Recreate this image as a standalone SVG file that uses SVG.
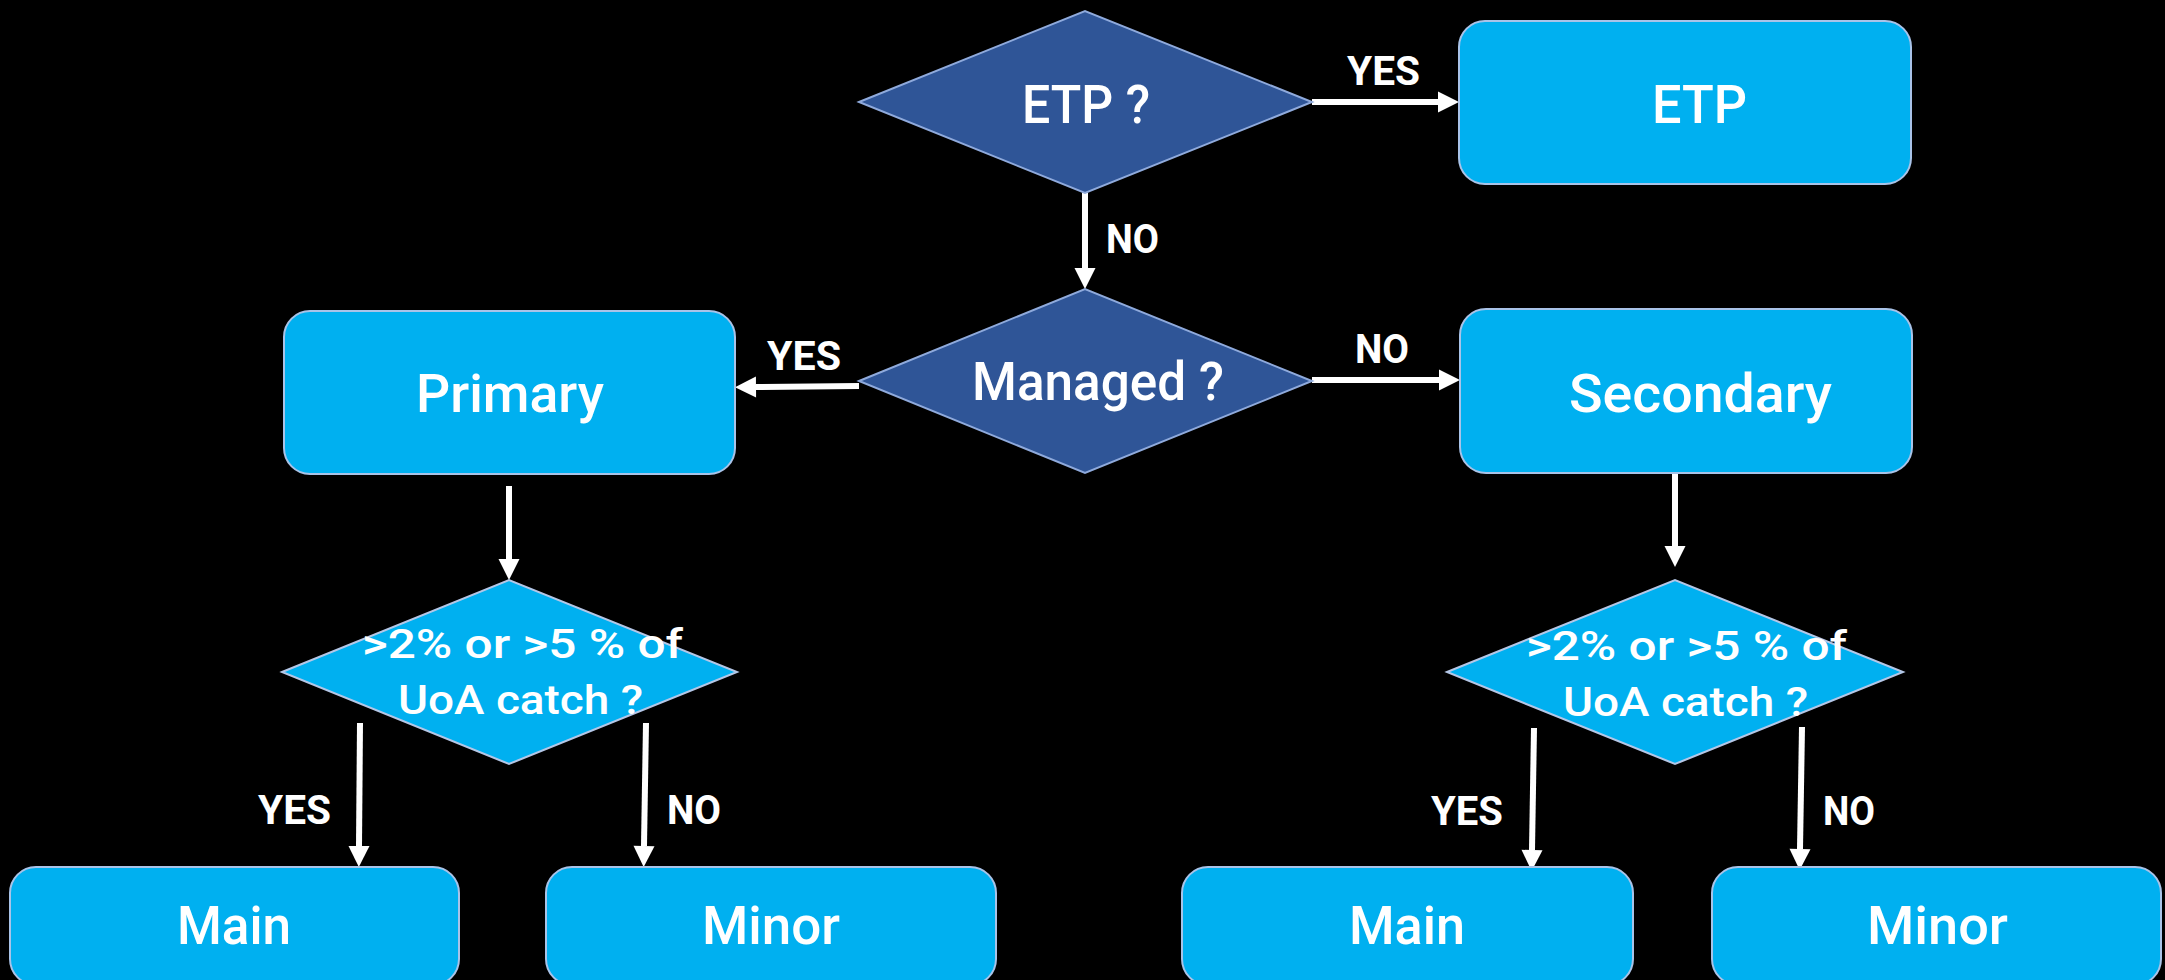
<svg xmlns="http://www.w3.org/2000/svg" width="2165" height="980" viewBox="0 0 2165 980">
  <defs>
    <marker id="head" markerUnits="userSpaceOnUse" markerWidth="20" markerHeight="21" refX="0" refY="10.5" orient="auto" overflow="visible">
      <path d="M0,0 L21,10.5 L0,21 z" fill="#ffffff"/>
    </marker>
    <style>
      .bg { fill: #000000; }
      .box { fill: #00B0F0; stroke: #A9C3E8; stroke-width: 2; }
      .dq { fill: #2F5597; stroke: #8FAADC; stroke-width: 2; }
      .dl { fill: #00B0F0; stroke: #B4C7E7; stroke-width: 2; }
      .t { font-family: Roboto, "Liberation Sans", sans-serif; font-weight: 500; fill: #ffffff; text-anchor: start; }
      .big { font-size: 54px; }
      .mid { font-size: 40px; }
      .lab { font-size: 41px; font-weight: 700; }
      .edge { fill: none; stroke: #ffffff; stroke-width: 6; marker-end: url(#head); }
    </style>
  </defs>

  <rect class="bg" x="0" y="0" width="2165" height="980"/>

  <!-- connectors -->
  <g id="connectors">
    <path class="edge" d="M1312,102 L1438,102"/>
    <path class="edge" d="M1085,193 L1085,268"/>
    <path class="edge" d="M859,386 L756,387"/>
    <path class="edge" d="M1312,380 L1439,380"/>
    <path class="edge" d="M509,486 L509,559"/>
    <path class="edge" d="M1675,472 L1675,546"/>
    <path class="edge" d="M360,723 L359,846"/>
    <path class="edge" d="M646,723 L644,846"/>
    <path class="edge" d="M1534,728 L1532,850"/>
    <path class="edge" d="M1802,727 L1800,849"/>

    <text class="t lab" x="1347" y="85" textLength="73" lengthAdjust="spacingAndGlyphs">YES</text>
    <text class="t lab" x="1106" y="253" textLength="53" lengthAdjust="spacingAndGlyphs">NO</text>
    <text class="t lab" x="767" y="370" textLength="74" lengthAdjust="spacingAndGlyphs">YES</text>
    <text class="t lab" x="1355" y="363" textLength="54" lengthAdjust="spacingAndGlyphs">NO</text>
    <text class="t lab" x="258" y="824" textLength="73" lengthAdjust="spacingAndGlyphs">YES</text>
    <text class="t lab" x="667" y="824" textLength="54" lengthAdjust="spacingAndGlyphs">NO</text>
    <text class="t lab" x="1431" y="825" textLength="72" lengthAdjust="spacingAndGlyphs">YES</text>
    <text class="t lab" x="1823" y="825" textLength="52" lengthAdjust="spacingAndGlyphs">NO</text>
  </g>

  <!-- decision: ETP? -->
  <g id="q-etp">
    <polygon class="dq" points="859,102 1085,11 1312,102 1085,193"/>
    <text class="t big" x="1022" y="123" textLength="128" lengthAdjust="spacingAndGlyphs">ETP ?</text>
  </g>

  <!-- outcome: ETP -->
  <g id="etp">
    <rect class="box" x="1459" y="21" width="452" height="163" rx="26" ry="26"/>
    <text class="t big" x="1652" y="123" textLength="95" lengthAdjust="spacingAndGlyphs">ETP</text>
  </g>

  <!-- decision: Managed? -->
  <g id="q-managed">
    <polygon class="dq" points="859,381 1085,289 1312,381 1085,473"/>
    <text class="t big" x="972" y="400" textLength="252" lengthAdjust="spacingAndGlyphs">Managed ?</text>
  </g>

  <!-- Primary -->
  <g id="primary">
    <rect class="box" x="284" y="311" width="451" height="163" rx="26" ry="26"/>
    <text class="t big" x="416" y="412" textLength="188" lengthAdjust="spacingAndGlyphs">Primary</text>
  </g>

  <!-- Secondary -->
  <g id="secondary">
    <rect class="box" x="1460" y="309" width="452" height="164" rx="26" ry="26"/>
    <text class="t big" x="1569" y="412" textLength="263" lengthAdjust="spacingAndGlyphs">Secondary</text>
  </g>

  <!-- catch-share test under Primary -->
  <g id="q-catch-primary">
    <polygon class="dl" points="282,672 509,580 737,672 509,764"/>
    <text class="t mid" x="362" y="658" textLength="321" lengthAdjust="spacingAndGlyphs">&gt;2% or &gt;5 % of</text>
    <text class="t mid" x="398" y="714" textLength="245" lengthAdjust="spacingAndGlyphs">UoA catch ?</text>
  </g>

  <!-- catch-share test under Secondary -->
  <g id="q-catch-secondary">
    <polygon class="dl" points="1447,672 1675,580 1903,672 1675,764"/>
    <text class="t mid" x="1526" y="660" textLength="321" lengthAdjust="spacingAndGlyphs">&gt;2% or &gt;5 % of</text>
    <text class="t mid" x="1563" y="716" textLength="245" lengthAdjust="spacingAndGlyphs">UoA catch ?</text>
  </g>

  <!-- leaf categories -->
  <g id="main-primary">
    <rect class="box" x="10" y="867" width="449" height="118" rx="26" ry="26"/>
    <text class="t big" x="177" y="944" textLength="114" lengthAdjust="spacingAndGlyphs">Main</text>
  </g>
  <g id="minor-primary">
    <rect class="box" x="546" y="867" width="450" height="118" rx="26" ry="26"/>
    <text class="t big" x="702" y="944" textLength="138" lengthAdjust="spacingAndGlyphs">Minor</text>
  </g>
  <g id="main-secondary">
    <rect class="box" x="1182" y="867" width="451" height="118" rx="26" ry="26"/>
    <text class="t big" x="1349" y="944" textLength="116" lengthAdjust="spacingAndGlyphs">Main</text>
  </g>
  <g id="minor-secondary">
    <rect class="box" x="1712" y="867" width="449" height="118" rx="26" ry="26"/>
    <text class="t big" x="1867" y="944" textLength="141" lengthAdjust="spacingAndGlyphs">Minor</text>
  </g>
</svg>
